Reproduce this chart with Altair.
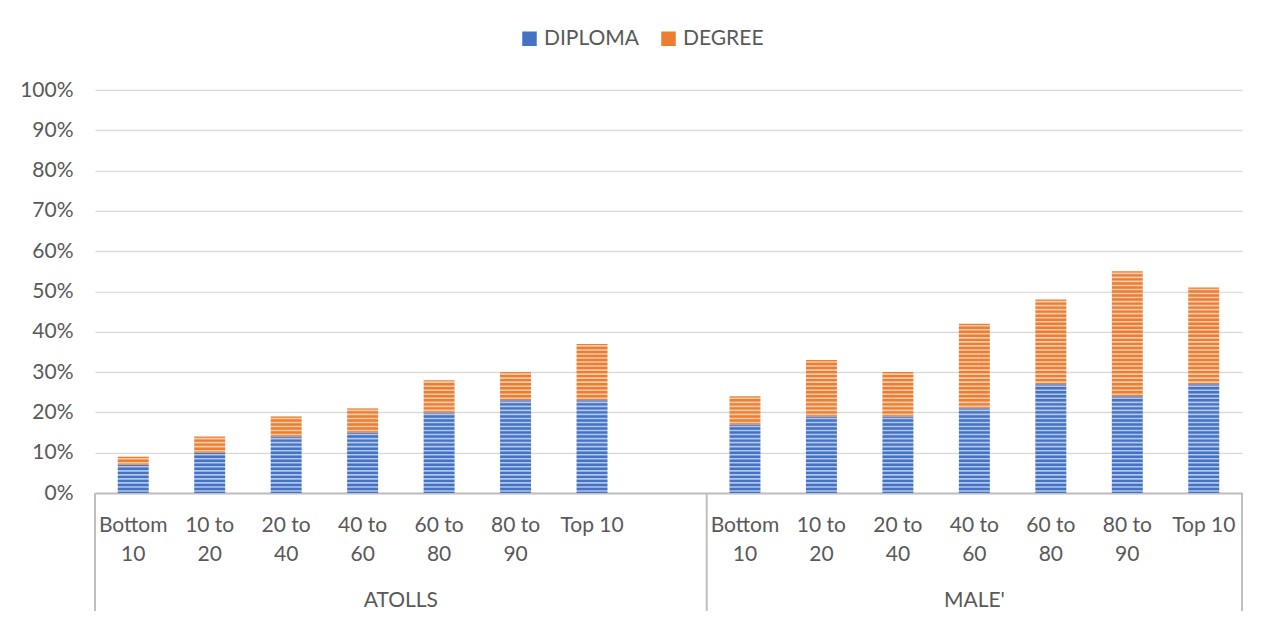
import altair as alt
import pandas as pd

groups = ["ATOLLS", "MALE'"]
categories = ["Bottom 10", "10 to 20", "20 to 40", "40 to 60", "60 to 80", "80 to 90", "Top 10"]
label_lines = [["Bottom", "10"], ["10 to", "20"], ["20 to", "40"], ["40 to", "60"],
               ["60 to", "80"], ["80 to", "90"], ["Top 10"]]
diploma_atolls = [0.07, 0.10, 0.14, 0.15, 0.20, 0.23, 0.23]
degree_atolls = [0.02, 0.04, 0.05, 0.06, 0.08, 0.07, 0.14]
diploma_male = [0.17, 0.19, 0.19, 0.21, 0.27, 0.24, 0.27]
degree_male = [0.07, 0.14, 0.11, 0.21, 0.21, 0.31, 0.24]
series = ["DIPLOMA", "DEGREE"]
colors = ["#4472C4", "#ED7D31"]

W, H = 1147, 403

# slot keys: ATOLLS has an empty trailing slot
keys_a = [f"A{i}" for i in range(len(categories))] + ["A7"]
keys_m = [f"M{i}" for i in range(len(categories))]
domain = keys_a + keys_m

rows = []
for g, pre, dip, deg in [(groups[0], "A", diploma_atolls, degree_atolls),
                         (groups[1], "M", diploma_male, degree_male)]:
    for i, c in enumerate(categories):
        rows.append({"key": f"{pre}{i}", "group": g, "cat": c, "series": series[0], "v": dip[i], "o": 0})
        rows.append({"key": f"{pre}{i}", "group": g, "cat": c, "series": series[1], "v": deg[i], "o": 1})
df = pd.DataFrame(rows)

lab = {}
for pre in ["A", "M"]:
    for i, ll in enumerate(label_lines):
        lab[f"{pre}{i}"] = ll
lab["A7"] = [""]
label_expr = "{" + ",".join(
    f"'{k}':[" + ",".join(f"'{s}'" for s in v) + "]" for k, v in lab.items()) + "}[datum.value]"

FONT = "Lato"
GREY = "#595959"
FS = 21

xscale = alt.Scale(domain=domain, paddingInner=0, paddingOuter=0)

bars = alt.Chart(df).mark_bar(width=alt.RelativeBandSize(0.405)).encode(
    x=alt.X("key:N", scale=xscale, sort=domain, title=None,
            axis=alt.Axis(labelExpr=label_expr, labelAngle=0, ticks=False, grid=False,
                          domainColor="#BFBFBF", domainWidth=2, labelFontSize=FS,
                          labelColor=GREY, labelFont=FONT, labelPadding=21,
                          labelLineHeight=29, labelBaseline="top")),
    y=alt.Y("v:Q", stack="zero", scale=alt.Scale(domain=[0, 1], nice=False), title=None,
            axis=alt.Axis(format="%", values=[i / 10 for i in range(11)], domain=False,
                          ticks=False, gridColor="#D9D9D9", gridWidth=1.5,
                          labelFontSize=FS, labelColor=GREY, labelFont=FONT,
                          labelPadding=22)),
    color=alt.Color("series:N", scale=alt.Scale(domain=series, range=colors),
                    legend=alt.Legend(title=None, orient="none", legendX=424, legendY=-62,
                                      direction="horizontal", symbolType="square",
                                      symbolSize=210, symbolStrokeWidth=0,
                                      labelFontSize=FS, labelColor=GREY, labelFont=FONT,
                                      columnPadding=18, symbolOffset=0, labelOffset=4)),
    order=alt.Order("o:Q"),
)

stripes = alt.Chart(alt.sequence(0.005, 1.0, 0.01, as_="s")).mark_rule(
    color="white", strokeWidth=1.6, opacity=0.6
).encode(y=alt.Y("s:Q"))

edge_left = alt.Chart(pd.DataFrame({"key": ["A0", "M0"]})).mark_rule(
    color="#BFBFBF", strokeWidth=2
).encode(x=alt.X("key:N", bandPosition=0), y=alt.value(H), y2=alt.value(H + 118))
edge_right = alt.Chart(pd.DataFrame({"key": ["M6"]})).mark_rule(
    color="#BFBFBF", strokeWidth=2
).encode(x=alt.X("key:N", bandPosition=1), y=alt.value(H), y2=alt.value(H + 118))

glab_a = alt.Chart(pd.DataFrame({"key": ["A4"], "g": [groups[0]]})).mark_text(
    fontSize=FS, font=FONT, color=GREY, baseline="middle"
).encode(x=alt.X("key:N", bandPosition=0), y=alt.value(H + 108), text="g:N")
glab_m = alt.Chart(pd.DataFrame({"key": ["M3"], "g": [groups[1]]})).mark_text(
    fontSize=FS, font=FONT, color=GREY, baseline="middle"
).encode(x=alt.X("key:N", bandPosition=0.5), y=alt.value(H + 108), text="g:N")

chart = alt.layer(bars, stripes, edge_left, edge_right, glab_a, glab_m).properties(
    width=W, height=H, autosize="none",
    padding={"left": 87, "top": 82, "right": 20, "bottom": 118},
).configure_view(stroke=None)

chart.save("out.html", embed_options={"renderer": "svg", "actions": False})
